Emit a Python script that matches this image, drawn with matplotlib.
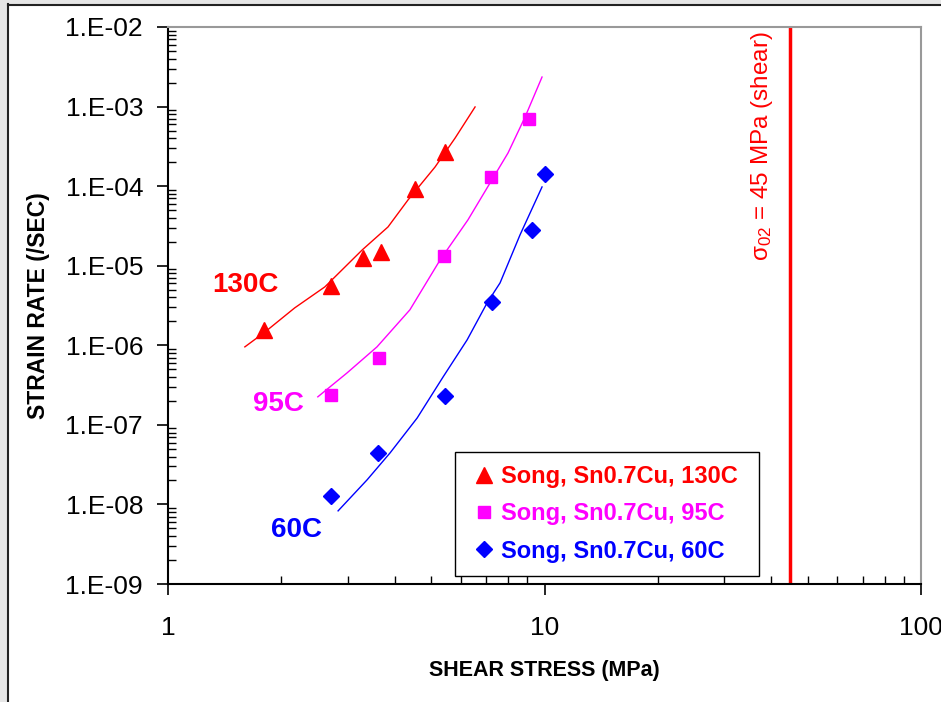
import numpy as np
import matplotlib
matplotlib.use("Agg")
import matplotlib.pyplot as plt
from matplotlib.ticker import FixedLocator, LogLocator, FuncFormatter, NullFormatter
from matplotlib.patches import Rectangle
from matplotlib.lines import Line2D

plt.rcParams['font.family'] = ['Liberation Sans', 'DejaVu Sans']
plt.rcParams['mathtext.fontset'] = 'custom'
plt.rcParams['mathtext.rm'] = 'Liberation Sans'

################################ DATA #########################################
# measured points (shear stress MPa, strain rate 1/s)
stress_130 = [1.80, 2.71, 3.30, 3.68, 4.53, 5.44]
rate_130 = [1.56e-6, 5.57e-6, 1.25e-5, 1.49e-5, 9.2e-5, 2.69e-4]

stress_95 = [2.71, 3.63, 5.41, 7.21, 9.10]
rate_95 = [2.38e-7, 6.95e-7, 1.33e-5, 1.30e-4, 6.99e-4]

stress_60 = [2.71, 3.61, 5.44, 7.25, 9.26, 10.03]
rate_60 = [1.28e-8, 4.45e-8, 2.31e-7, 3.51e-6, 2.82e-5, 1.42e-4]

# fitted curves
fit_stress_130 = [1.60, 1.81, 2.17, 2.61, 3.28, 3.84, 4.34, 5.12, 5.79, 6.54]
fit_rate_130 = [9.55e-7, 1.47e-6, 2.95e-6, 5.42e-6, 1.58e-5, 3.07e-5, 6.71e-5,
                1.74e-4, 4.03e-4, 9.89e-4]

fit_stress_95 = [2.50, 2.99, 3.59, 4.39, 5.28, 6.26, 7.25, 8.00, 8.88, 9.85]
fit_rate_95 = [2.25e-7, 4.50e-7, 9.55e-7, 2.79e-6, 1.18e-5, 3.76e-5, 1.20e-4,
               2.61e-4, 7.40e-4, 2.35e-3]

fit_stress_60 = [2.83, 3.38, 3.89, 4.59, 5.38, 6.23, 7.04, 7.62, 8.61, 9.85]
fit_rate_60 = [8.3e-9, 2.04e-8, 4.45e-8, 1.22e-7, 4.01e-7, 1.17e-6, 3.41e-6,
               6.08e-6, 2.44e-5, 9.77e-5]

yield_shear = 45  # MPa

labels = ["Song, Sn0.7Cu, 130C", "Song, Sn0.7Cu, 95C", "Song, Sn0.7Cu, 60C"]
colors = ["#ff0000", "#ff00ff", "#0000ff"]

################################ PLOT #########################################
fig = plt.figure(figsize=(9.41, 7.02), dpi=100, facecolor="white")
W, H = 941.0, 702.0

# window-like frame on left and top
fig.patches.append(Rectangle((0, 0), 7 / W, 1, transform=fig.transFigure,
                             facecolor="#e6e6e6", edgecolor="none", zorder=0))
fig.patches.append(Rectangle((0, 1 - 4 / H), 1, 4 / H, transform=fig.transFigure,
                             facecolor="#e6e6e6", edgecolor="none", zorder=0))
fig.lines.append(Line2D([8 / W, 8 / W], [0, 1 - 4 / H], transform=fig.transFigure,
                        color="#222222", lw=1.5))
fig.lines.append(Line2D([8 / W, 1], [1 - 4.5 / H, 1 - 4.5 / H], transform=fig.transFigure,
                        color="#222222", lw=1.5))

ax = fig.add_axes([168 / W, 1 - 584 / H, 753 / W, 557 / H])
ax.set_xscale("log")
ax.set_yscale("log")
ax.set_xlim(1, 100)
ax.set_ylim(1e-9, 1e-2)

ax.plot(fit_stress_130, fit_rate_130, color=colors[0], lw=1)
ax.plot(fit_stress_95, fit_rate_95, color=colors[1], lw=1)
ax.plot(fit_stress_60, fit_rate_60, color=colors[2], lw=1)

h1, = ax.plot(stress_130, rate_130, "^", color=colors[0], ms=11.5, mec=colors[0], ls="none")
h2, = ax.plot(stress_95, rate_95, "s", color=colors[1], ms=8.5, mec=colors[1], ls="none")
h3, = ax.plot(stress_60, rate_60, "D", color=colors[2], ms=8.5, mec=colors[2], ls="none")

ax.axvline(yield_shear, color="#ff0000", lw=2.5, zorder=1)
ax.text(0.789, 0.786, r"$\mathregular{\sigma_{02}}$ = 45 MPa (shear)", transform=ax.transAxes,
        rotation=90, ha="center", va="center", color="#ff0000", fontsize=17.5)

ax.text(0.1023, 0.537, "130C", transform=ax.transAxes, ha="center", va="center",
        color=colors[0], fontsize=20, fontweight="bold")
ax.text(0.1461, 0.3232, "95C", transform=ax.transAxes, ha="center", va="center",
        color=colors[1], fontsize=20, fontweight="bold")
ax.text(0.170, 0.0969, "60C", transform=ax.transAxes, ha="center", va="center",
        color=colors[2], fontsize=20, fontweight="bold")

leg = ax.legend([h1, h2, h3], labels, loc="center", mode="expand",
                bbox_to_anchor=(0.381, 0.0162, 0.404, 0.219),
                prop={"weight": "bold", "size": 17}, labelcolor=colors,
                fancybox=False, framealpha=1, edgecolor="black",
                handlelength=1.4, handletextpad=0.0, borderpad=0.55,
                labelspacing=0.6, borderaxespad=0)
leg.get_frame().set_linewidth(1.0)

# axes / ticks in spreadsheet style
for s in ["left", "bottom"]:
    ax.spines[s].set_color("black")
    ax.spines[s].set_linewidth(1.5)
for s in ["top", "right"]:
    ax.spines[s].set_color("#999999")
    ax.spines[s].set_linewidth(1.5)

ax.xaxis.set_major_locator(FixedLocator([1, 10, 100]))
ax.xaxis.set_major_formatter(FuncFormatter(lambda v, _: "%d" % round(v)))
ax.xaxis.set_minor_locator(LogLocator(base=10, subs=np.arange(2, 10)))
ax.xaxis.set_minor_formatter(NullFormatter())

ax.yaxis.set_major_locator(LogLocator(base=10, numticks=20))
ax.yaxis.set_major_formatter(FuncFormatter(lambda v, _: "1.E-%02d" % round(-np.log10(v))))
ax.yaxis.set_minor_locator(LogLocator(base=10, subs=np.arange(2, 10), numticks=20))
ax.yaxis.set_minor_formatter(NullFormatter())

ax.tick_params(which="major", direction="out", length=8, width=1.2, labelsize=19)
ax.tick_params(which="minor", direction="in", length=6, width=1)
ax.tick_params(axis="x", which="major", pad=15)
ax.tick_params(axis="y", which="major", pad=10)

ax.set_xlabel("SHEAR STRESS (MPa)", fontsize=15.5, fontweight="bold")
ax.set_ylabel("STRAIN RATE (/SEC)", fontsize=16.5, fontweight="bold")
ax.xaxis.set_label_coords(0.5, -0.1364)
ax.yaxis.set_label_coords(-0.1567, 0.5)

plt.savefig("out.png", dpi=100)
plt.close()
